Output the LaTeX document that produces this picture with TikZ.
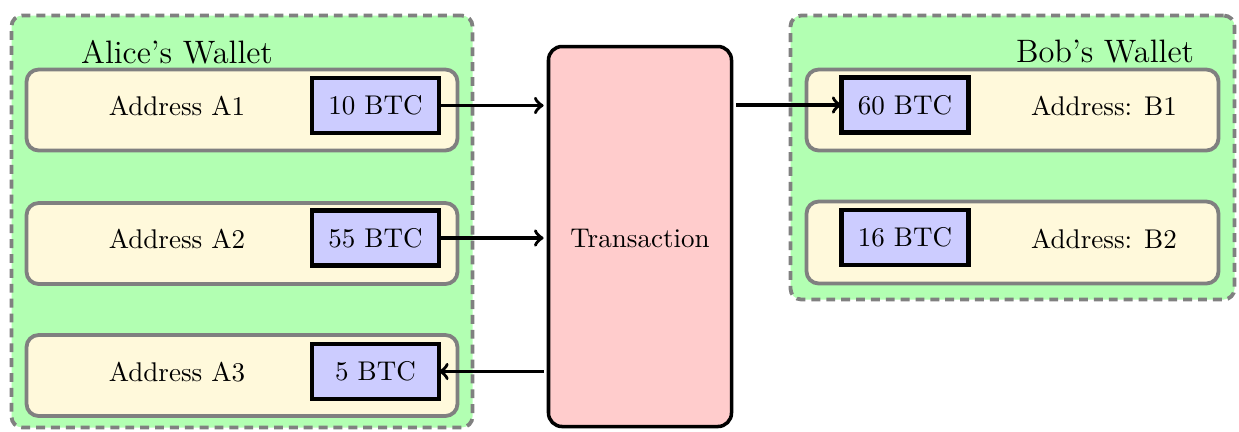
\documentclass[tikz,border=0pt]{standalone}
\definecolor{cream}{RGB}{255,249,219}
\tikzset{
  wallet/.style={draw=gray, fill=green!30, line width=1.4pt,
    dash pattern=on 3.3pt off 2.2pt, rounded corners=4pt,
    inner sep=0pt, outer sep=0pt},
  addrbox/.style={draw=gray, fill=cream, line width=1.4pt,
    rounded corners=4.5pt, inner sep=0pt, outer sep=0pt},
  coin/.style={draw=black, fill=blue!20, line width=1.6pt,
    minimum width=127*0.013cm, minimum height=55*0.013cm,
    inner sep=0pt, outer sep=0pt},
  txbox/.style={draw=black, fill=red!20, line width=1.3pt,
    rounded corners=5pt, inner sep=0pt, outer sep=1.8pt},
  flow/.style={->, line width=1.3pt},
  walletname/.style={font=\large},
}
\begin{document}
\begin{tikzpicture}[x=0.013cm, y=-0.013cm]
\useasboundingbox (0,0) rectangle (1239,431);

% Alice's wallet
\node[wallet, minimum width=461*0.013cm, minimum height=412*0.013cm] (alice) at (242,221.5) {};
\node[walletname] (alicename) at (177,52) {Alice's Wallet};
\node[addrbox, minimum width=431*0.013cm, minimum height=81*0.013cm] (a1) at (242,110) {};
\node[addrbox, minimum width=431*0.013cm, minimum height=81*0.013cm] (a2) at (242,243.5) {};
\node[addrbox, minimum width=431*0.013cm, minimum height=81*0.013cm] (a3) at (242,375.5) {};
\node (a1t) at (177,106) {Address A1};
\node (a2t) at (177,239) {Address A2};
\node (a3t) at (177,372) {Address A3};
\node[coin] (c1) at (375.5,105.5) {10 BTC};
\node[coin] (c2) at (375.5,238) {55 BTC};
\node[coin] (c3) at (375.5,371.5) {5 BTC};

% Bob's wallet
\node[wallet, minimum width=444*0.013cm, minimum height=284*0.013cm] (bob) at (1012.5,157.5) {};
\node[walletname] (bobname) at (1105,52) {Bob's Wallet};
\node[addrbox, minimum width=412*0.013cm, minimum height=81*0.013cm] (b1) at (1012.5,110) {};
\node[addrbox, minimum width=412*0.013cm, minimum height=82*0.013cm] (b2) at (1012.5,242.5) {};
\node (b1t) at (1104,106) {Address: B1};
\node (b2t) at (1104,239) {Address: B2};
\node[coin] (c60) at (905,105) {60 BTC};
\node[coin] (c16) at (905,237.5) {16 BTC};

% Transaction
\node[txbox, minimum width=183*0.013cm, minimum height=380*0.013cm] (tx) at (640,236.5) {};
\node (txt) at (640,238) {Transaction};

% Flows
\draw[flow] (c1.east) -- (c1.east -| tx.west);
\draw[flow] (c2.east) -- (c2.east -| tx.west);
\draw[flow] (c3.east -| tx.west) -- (c3.east);
\draw[flow] (c60.west -| tx.east) -- (c60.west);
\end{tikzpicture}
\end{document}
